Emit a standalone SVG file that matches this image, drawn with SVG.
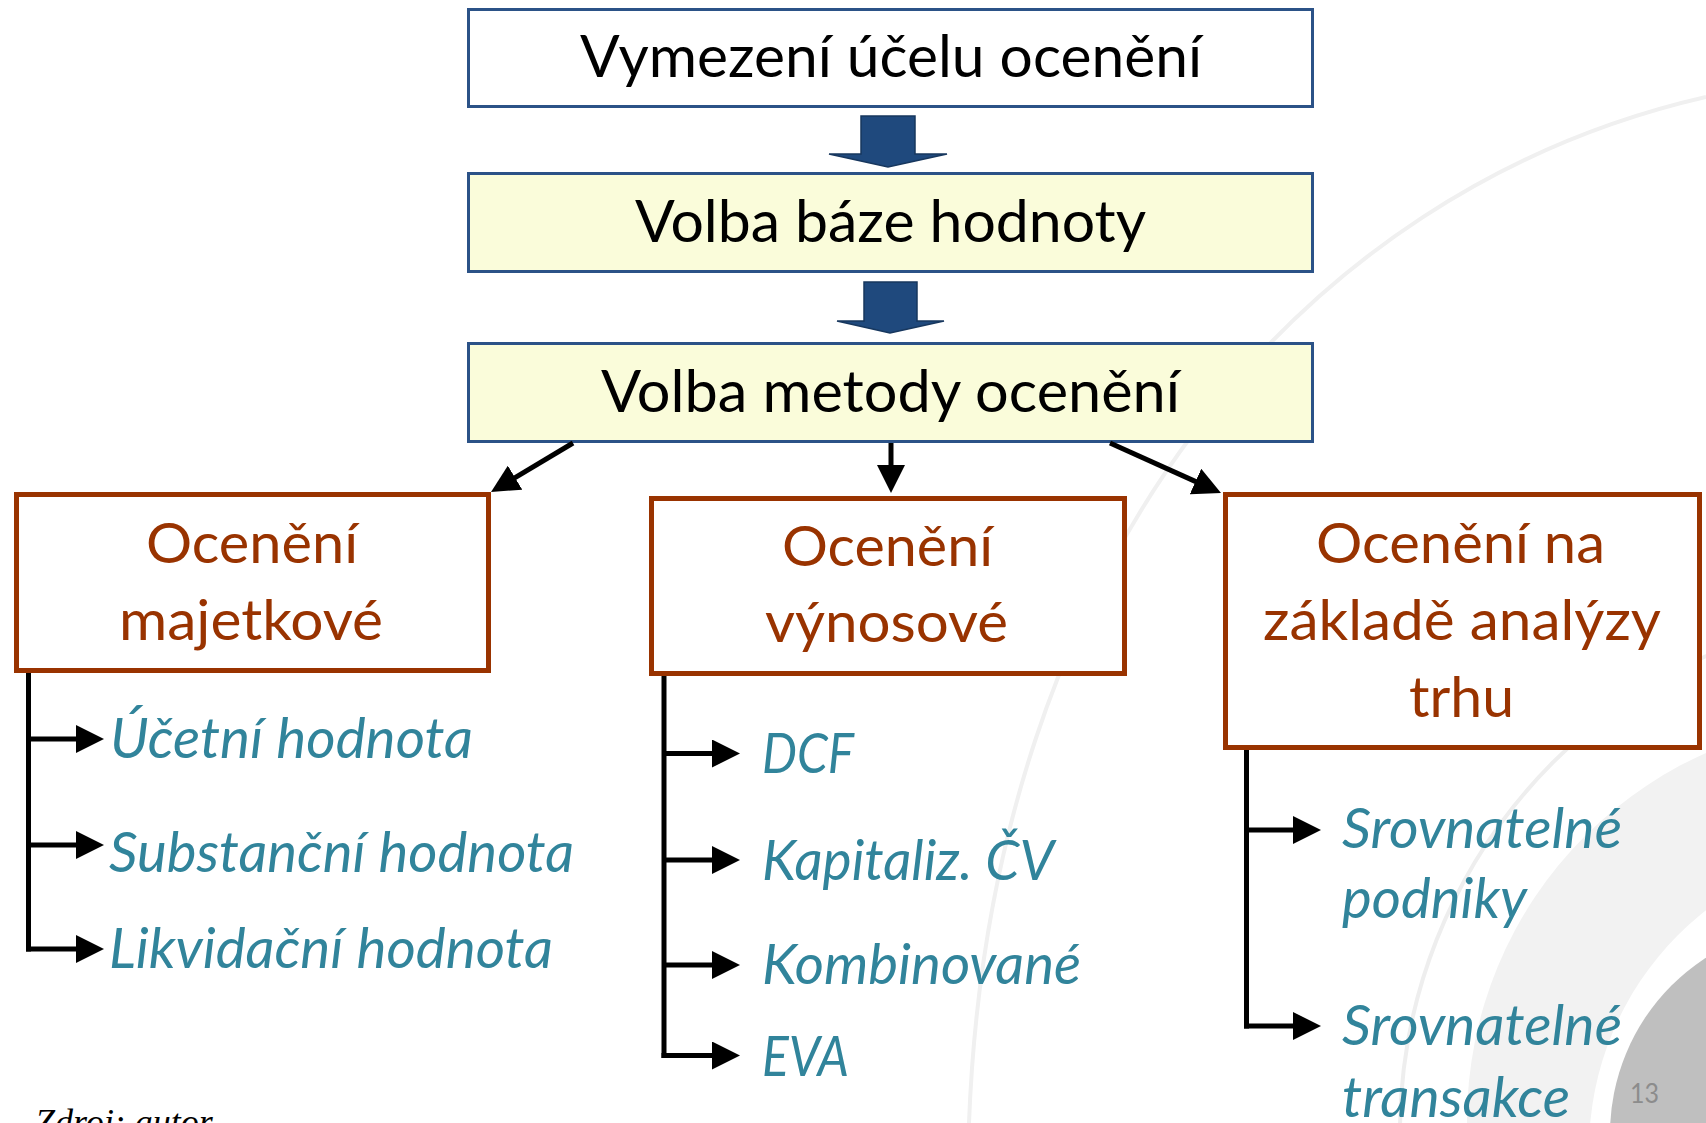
<svg xmlns="http://www.w3.org/2000/svg" width="1706" height="1123" viewBox="0 0 1706 1123">
<defs>
<style>
.t{font-family:Lato,"Open Sans","DejaVu Sans",sans-serif;}
.blk{font-size:58px;fill:#000000;}
.brn{font-size:56px;fill:#993300;}
.itl{font-size:56px;fill:#31849B;font-style:italic;}
.bbox{fill:#FFFFFF;stroke:#2B5287;stroke-width:3;}
.ybox{fill:#FAFCDA;stroke:#2B5287;stroke-width:3;}
.rbox{fill:#FFFFFF;stroke:#993300;stroke-width:5;}
.conn{stroke:#000000;stroke-width:5;fill:none;}
.barrow{fill:#1F497D;stroke:#17375E;stroke-width:1.5;}
</style>
<marker id="ah" markerUnits="userSpaceOnUse" markerWidth="28" markerHeight="28" viewBox="0 0 28 28" refX="18" refY="14" orient="auto">
<path d="M0,0 L28,14 L0,28 Z" fill="#000000"/>
</marker>
</defs>
<rect x="0" y="0" width="1706" height="1123" fill="#FFFFFF"/>
<g id="background">
<path d="M1706,97 C1300,190 990,560 969,1123" fill="none" stroke="#F0F0F0" stroke-width="4"/>
<circle cx="1923" cy="1132" r="523" fill="none" stroke="#EEEEEE" stroke-width="4"/>
<circle cx="1870" cy="1121" r="403" fill="#F2F2F2"/>
<circle cx="1893" cy="1150" r="304" fill="#FFFFFF"/>
<circle cx="1820" cy="1134" r="210" fill="#BFBFBF"/>
<text class="t" x="1630" y="1103" font-size="27" fill="#8C8C8C" textLength="29" lengthAdjust="spacingAndGlyphs">13</text>
</g>
<g id="node-ucel">
<rect class="bbox" x="468.5" y="9.5" width="844" height="97"/>
<text class="t blk" x="580" y="77" textLength="622" lengthAdjust="spacingAndGlyphs">Vymezení účelu ocenění</text>
</g>
<g id="node-baze">
<rect class="ybox" x="468.5" y="173.5" width="844" height="98"/>
<text class="t blk" x="635" y="242" textLength="511" lengthAdjust="spacingAndGlyphs">Volba báze hodnoty</text>
</g>
<g id="node-metoda">
<rect class="ybox" x="468.5" y="343.5" width="844" height="98"/>
<text class="t blk" x="601" y="412" textLength="579" lengthAdjust="spacingAndGlyphs">Volba metody ocenění</text>
</g>
<g id="node-majetkove">
<rect class="rbox" x="16.5" y="494.5" width="472" height="176"/>
<text class="t brn" x="146" y="563" textLength="212" lengthAdjust="spacingAndGlyphs">Ocenění</text>
<text class="t brn" x="119" y="640" textLength="264" lengthAdjust="spacingAndGlyphs">majetkové</text>
</g>
<g id="node-vynosove">
<rect class="rbox" x="651.5" y="498.5" width="473" height="175"/>
<text class="t brn" x="782" y="566" textLength="211" lengthAdjust="spacingAndGlyphs">Ocenění</text>
<text class="t brn" x="765" y="642" textLength="243" lengthAdjust="spacingAndGlyphs">výnosové</text>
</g>
<g id="node-trh">
<rect class="rbox" x="1225.5" y="494.5" width="474" height="253"/>
<text class="t brn" x="1316" y="563" textLength="289" lengthAdjust="spacingAndGlyphs">Ocenění na</text>
<text class="t brn" x="1263" y="640" textLength="398" lengthAdjust="spacingAndGlyphs">základě analýzy</text>
<text class="t brn" x="1409" y="717" textLength="105" lengthAdjust="spacingAndGlyphs">trhu</text>
</g>
<g id="items-majetkove">
<text class="t itl" x="110" y="758" textLength="363" lengthAdjust="spacingAndGlyphs">Účetní hodnota</text>
<text class="t itl" x="109" y="872" textLength="465" lengthAdjust="spacingAndGlyphs">Substanční hodnota</text>
<text class="t itl" x="109" y="968" textLength="444" lengthAdjust="spacingAndGlyphs">Likvidační hodnota</text>
</g>
<g id="items-vynosove">
<text class="t itl" x="762" y="773" textLength="92" lengthAdjust="spacingAndGlyphs">DCF</text>
<text class="t itl" x="762" y="880" textLength="292" lengthAdjust="spacingAndGlyphs">Kapitaliz. ČV</text>
<text class="t itl" x="762" y="984" textLength="319" lengthAdjust="spacingAndGlyphs">Kombinované</text>
<text class="t itl" x="762" y="1076" textLength="87" lengthAdjust="spacingAndGlyphs">EVA</text>
</g>
<g id="items-trh">
<text class="t itl" x="1342" y="848" textLength="280" lengthAdjust="spacingAndGlyphs">Srovnatelné</text>
<text class="t itl" x="1342" y="918" textLength="185" lengthAdjust="spacingAndGlyphs">podniky</text>
<text class="t itl" x="1342" y="1045" textLength="280" lengthAdjust="spacingAndGlyphs">Srovnatelné</text>
<text class="t itl" x="1342" y="1117" textLength="228" lengthAdjust="spacingAndGlyphs">transakce</text>
</g>
<g id="connectors">
<path class="barrow" d="M861,116 H915 V154 H947 L888,167 L829,154 H861 Z"/>
<path class="barrow" d="M864,282 H917 V321 H944 L890,333 L837,321 H864 Z"/>
<line class="conn" x1="573" y1="443" x2="499.6" y2="486.9" marker-end="url(#ah)"/>
<line class="conn" x1="891" y1="443" x2="891" y2="483" marker-end="url(#ah)"/>
<line class="conn" x1="1110" y1="443" x2="1211.9" y2="488.9" marker-end="url(#ah)"/>
<path class="conn" d="M28.5,673 V951.5"/>
<line class="conn" x1="28.5" y1="739" x2="94" y2="739" marker-end="url(#ah)"/>
<line class="conn" x1="28.5" y1="845" x2="94" y2="845" marker-end="url(#ah)"/>
<line class="conn" x1="26" y1="949" x2="94" y2="949" marker-end="url(#ah)"/>
<path class="conn" d="M664,676 V1058"/>
<line class="conn" x1="664" y1="753.5" x2="730" y2="753.5" marker-end="url(#ah)"/>
<line class="conn" x1="664" y1="860" x2="730" y2="860" marker-end="url(#ah)"/>
<line class="conn" x1="664" y1="965" x2="730" y2="965" marker-end="url(#ah)"/>
<line class="conn" x1="661.5" y1="1055.5" x2="730" y2="1055.5" marker-end="url(#ah)"/>
<path class="conn" d="M1246.5,750 V1028.5"/>
<line class="conn" x1="1246.5" y1="830" x2="1311" y2="830" marker-end="url(#ah)"/>
<line class="conn" x1="1244" y1="1026" x2="1311" y2="1026" marker-end="url(#ah)"/>
</g>
<g id="source">
<text x="35" y="1134" font-family="'Liberation Serif','Times New Roman',serif" font-style="italic" font-size="36" fill="#000000">Zdroj: autor</text>
</g>
</svg>
